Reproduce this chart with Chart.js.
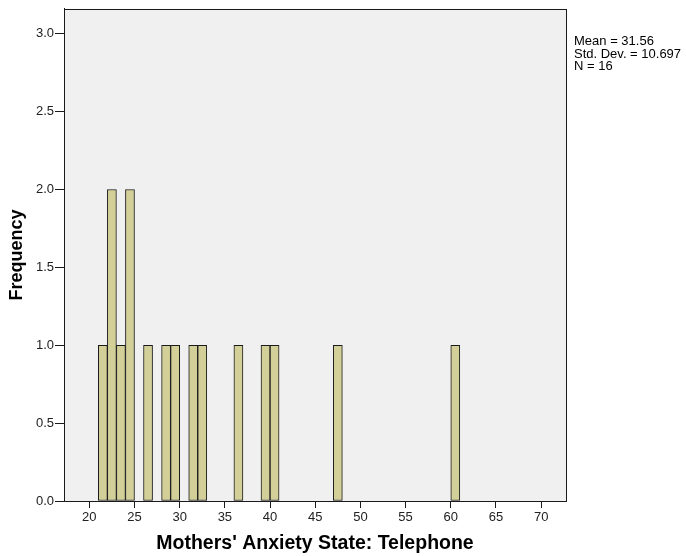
<!DOCTYPE html>
<html>
<head>
<meta charset="utf-8">
<script src="https://cdn.jsdelivr.net/npm/chart.js@4/dist/chart.umd.min.js"></script>
<style>
  html, body { margin: 0; padding: 0; background: #ffffff; }
  #wrap { width: 686px; height: 556px; position: relative; }
</style>
</head>
<body>
<div id="wrap"><canvas id="hist" width="686" height="556"></canvas></div>
<script>
// Histogram of mothers' anxiety state scores (telephone group), bin width 1
const binStarts = [21, 22, 23, 24, 26, 28, 29, 31, 32, 36, 39, 40, 47, 60];
const binCounts = [1, 2, 1, 2, 1, 1, 1, 1, 1, 1, 1, 1, 1, 1];
const binWidth = 1;
const xTickValues = [20, 25, 30, 35, 40, 45, 50, 55, 60, 65, 70];
const yTickValues = [0, 0.5, 1.0, 1.5, 2.0, 2.5, 3.0];
const statsLines = ['Mean = 31.56', 'Std. Dev. = 10.697', 'N = 16'];
const xTitle = "Mothers' Anxiety State: Telephone";
const yTitle = 'Frequency';

const FONT = '"Liberation Sans", Arial, Helvetica, sans-serif';

const points = binStarts.map((s, i) => ({ x: s + binWidth / 2, y: binCounts[i] }));

// Plot panel: grey fill behind everything and a dark frame on top
const panelPlugin = {
  id: 'panel',
  beforeDraw(chart) {
    const { ctx, chartArea: a } = chart;
    ctx.save();
    ctx.fillStyle = '#f0f0f0';
    ctx.fillRect(a.left, a.top, a.right - a.left, a.bottom - a.top);
    ctx.restore();
  },
  afterDraw(chart) {
    const { ctx, chartArea: a } = chart;
    ctx.save();
    ctx.strokeStyle = '#1a1a1a';
    ctx.lineWidth = 1;
    ctx.strokeRect(Math.round(a.left) + 0.5, Math.round(a.top) + 0.5,
                   Math.round(a.right - a.left), Math.round(a.bottom - a.top));
    // summary statistics to the right of the panel
    ctx.fillStyle = '#000000';
    ctx.font = '13px ' + FONT;
    ctx.textBaseline = 'alphabetic';
    ctx.textAlign = 'left';
    statsLines.forEach((t, i) => ctx.fillText(t, a.right + 8, 45 + i * 12.5));
    ctx.restore();
  }
};

new Chart(document.getElementById('hist'), {
  type: 'bar',
  data: {
    datasets: [{
      data: points,
      backgroundColor: '#d3cf98',
      borderColor: '#1a1a1a',
      borderWidth: 1,
      borderSkipped: false,
      categoryPercentage: 1.0,
      barPercentage: 1.0
    }]
  },
  options: {
    responsive: false,
    animation: false,
    devicePixelRatio: 1,
    layout: { padding: { top: 8, right: 120, left: 0, bottom: 0 } },
    plugins: {
      legend: { display: false },
      tooltip: { enabled: false }
    },
    scales: {
      x: {
        type: 'linear',
        min: 17.2,
        max: 72.75,
        offset: false,
        afterBuildTicks(scale) { scale.ticks = xTickValues.map(v => ({ value: v })); },
        afterFit(scale) { scale.height = 55; },
        ticks: {
          color: '#222222',
          font: { family: FONT, size: 13 },
          padding: 2,
          maxRotation: 0,
          autoSkip: false,
          callback: v => String(v)
        },
        grid: { offset: false, drawOnChartArea: false, drawTicks: true, tickLength: 7, color: '#1a1a1a', lineWidth: 1 },
        border: { display: true, color: '#1a1a1a', width: 1 },
        title: {
          display: true,
          text: xTitle,
          color: '#000000',
          font: { family: FONT, size: 19.5, weight: 'bold' },
          padding: { top: 0, bottom: 1 }
        }
      },
      y: {
        type: 'linear',
        min: 0,
        max: 3.16,
        afterBuildTicks(scale) { scale.ticks = yTickValues.map(v => ({ value: v })); },
        afterFit(scale) { scale.width = 64; },
        ticks: {
          color: '#222222',
          font: { family: FONT, size: 13 },
          padding: 1,
          autoSkip: false,
          callback: v => Number(v).toFixed(1)
        },
        grid: { drawOnChartArea: false, drawTicks: true, tickLength: 9, color: '#1a1a1a', lineWidth: 1 },
        border: { display: true, color: '#1a1a1a', width: 1 },
        title: {
          display: true,
          text: yTitle,
          color: '#000000',
          font: { family: FONT, size: 18, weight: 'bold' },
          padding: { top: 6, bottom: 0 }
        }
      }
    }
  },
  plugins: [panelPlugin]
});
</script>
</body>
</html>
